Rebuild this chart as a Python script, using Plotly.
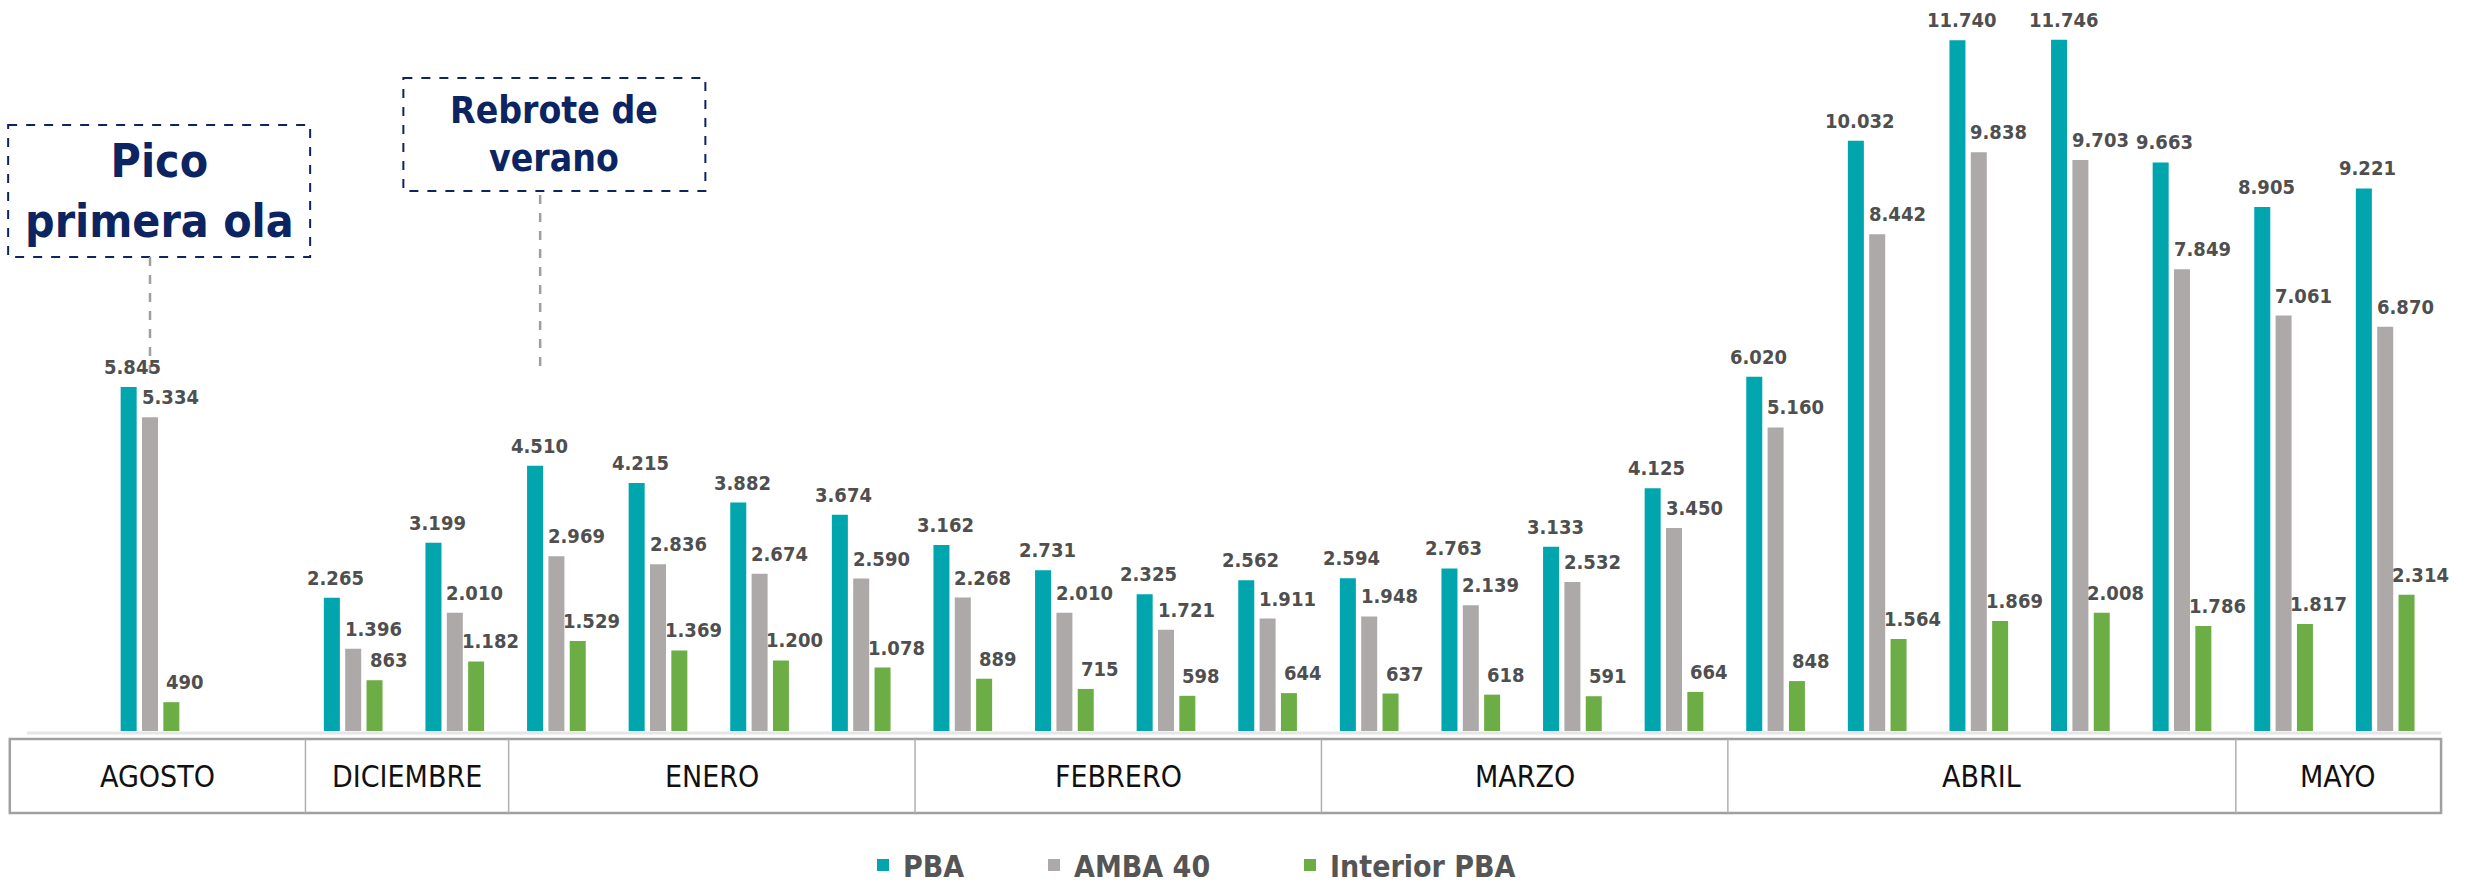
import plotly.graph_objects as go

# ---------------- data ----------------
months = ["AGOSTO", "DICIEMBRE", "ENERO", "FEBRERO", "MARZO", "ABRIL", "MAYO"]
weeks_per_month = [1, 2, 4, 4, 4, 5, 2]
empty_slots_before = [0, 1, 0, 0, 0, 0, 0]

series_names = ["PBA", "AMBA 40", "Interior PBA"]
pba = [5845, 2265, 3199, 4510, 4215, 3882, 3674, 3162, 2731, 2325, 2562,
       2594, 2763, 3133, 4125, 6020, 10032, 11740, 11746, 9663, 8905, 9221]
amba = [5334, 1396, 2010, 2969, 2836, 2674, 2590, 2268, 2010, 1721, 1911,
        1948, 2139, 2532, 3450, 5160, 8442, 9838, 9703, 7849, 7061, 6870]
interior = [490, 863, 1182, 1529, 1369, 1200, 1078, 889, 715, 598, 644,
            637, 618, 591, 664, 848, 1564, 1869, 2008, 1786, 1817, 2314]

callout_texts = ["Pico<br>primera ola", "Rebrote de<br>verano"]
callout_week = [0, 3]          # index of the week the callout points to

# ---------------- styling / geometry ----------------
W, H = 2476, 886
PLOT_H = 731                  # plot area height (px), bars baseline
SLOT_PX = 101.6
X0_PX = 150.0
PX_PER_UNIT = 0.05884
colors = ["#00A5AE", "#ADA9A8", "#6CAD45"]
bar_offsets = [-0.21, 0.0, 0.21]
label_xshift = [4, 20, 14]
legend_marker_px = [883, 1054, 1310]
FONT = "DejaVu Sans Condensed, Liberation Sans Narrow, DejaVu Sans, sans-serif"
NAVY = "#0C2461"

xmin = -X0_PX / SLOT_PX
xmax = xmin + W / SLOT_PX
ymax = PLOT_H / PX_PER_UNIT


def pxx(s):
    return (s - xmin) / (xmax - xmin)


def pyy(px):
    return (PLOT_H - px) / PLOT_H


def fmt(v):
    return f"{v:,}".replace(",", ".")


# slot positions of each week
slots, m_start, m_end = [], [], []
s = 0
for n, gap in zip(weeks_per_month, empty_slots_before):
    s += gap
    m_start.append(s)
    for _ in range(n):
        slots.append(s)
        s += 1
    m_end.append(s - 1)

fig = go.Figure()
all_series = [pba, amba, interior]
legend_ids = ["legend", "legend2", "legend3"]
for name, vals, col, lg in zip(series_names, all_series, colors, legend_ids):
    fig.add_trace(go.Bar(x=slots, y=vals, name=name, marker_color=col,
                         marker_line_width=0, legend=lg,
                         hovertemplate="%{y}<extra>" + name + "</extra>"))

annotations = []
shapes = []

# value labels
for si, vals in enumerate(all_series):
    for x, v in zip(slots, vals):
        annotations.append(dict(
            x=x + bar_offsets[si], y=v, xref="x", yref="y", text=fmt(v),
            showarrow=False, xanchor="center", yanchor="bottom",
            xshift=label_xshift[si], yshift=6,
            font=dict(family=FONT, size=20, color="#4F4F4F", weight="bold")))

# table below the bars
t_left = m_start[0] - 1.38
t_right = m_end[-1] + 0.55
t_top, t_bot = 739, 813
edges = [t_left] + [st - 0.47 for st in m_start[1:]] + [t_right]

shapes.append(dict(type="line", xref="paper", yref="paper",
                   x0=pxx(t_left + 0.17), x1=pxx(t_right), y0=pyy(733), y1=pyy(733),
                   line=dict(color="#E6E6E6", width=3)))
shapes.append(dict(type="rect", xref="paper", yref="paper",
                   x0=pxx(t_left), x1=pxx(t_right), y0=pyy(t_top), y1=pyy(t_bot),
                   line=dict(color="#A0A0A0", width=2.5), fillcolor="rgba(0,0,0,0)"))
for e in edges[1:-1]:
    shapes.append(dict(type="line", xref="paper", yref="paper",
                       x0=pxx(e), x1=pxx(e), y0=pyy(t_top), y1=pyy(t_bot),
                       line=dict(color="#B0B0B0", width=1.5)))
for i, m in enumerate(months):
    annotations.append(dict(
        x=pxx((edges[i] + edges[i + 1]) / 2), y=pyy((t_top + t_bot) / 2),
        xref="paper", yref="paper", text=m, showarrow=False,
        xanchor="center", yanchor="middle",
        font=dict(family=FONT, size=30, color="#111111")))

# callouts
box_geom = [  # (center offset in slots, half width px, top px, bottom px, font size, line x offset, line y0, line y1)
    (0.09, 151, 125, 257, 46, 0.0, 257, 373),
    (-0.02, 151, 78, 191, 37, -0.16, 195, 375),
]
for txt, wk, g in zip(callout_texts, callout_week, box_geom):
    cx_s = slots[wk] + g[0]
    half = g[1] / SLOT_PX
    shapes.append(dict(type="rect", xref="paper", yref="paper",
                       x0=pxx(cx_s - half), x1=pxx(cx_s + half),
                       y0=pyy(g[2]), y1=pyy(g[3]),
                       line=dict(color=NAVY, width=2, dash="dash"),
                       fillcolor="rgba(0,0,0,0)"))
    annotations.append(dict(
        x=pxx(cx_s), y=pyy((g[2] + g[3]) / 2), xref="paper", yref="paper",
        text=txt, showarrow=False, xanchor="center", yanchor="middle",
        font=dict(family=FONT, size=g[4], color=NAVY, weight="bold")))
    lx = slots[wk] + g[5]
    shapes.append(dict(type="line", xref="paper", yref="paper",
                       x0=pxx(lx), x1=pxx(lx), y0=pyy(g[6]), y1=pyy(g[7]),
                       line=dict(color="#9E9E9E", width=2.5, dash="dash")))

legend_font = dict(family=FONT, size=30, color="#555555", weight="bold")
legend_layouts = {}
for lg, mx in zip(legend_ids, legend_marker_px):
    legend_layouts[lg] = dict(orientation="h", x=(mx - 20) / W, xanchor="left",
                              y=pyy(865), yanchor="middle", font=legend_font,
                              bgcolor="rgba(0,0,0,0)", borderwidth=0)

fig.update_layout(
    width=W, height=H,
    margin=dict(l=0, r=0, t=0, b=H - PLOT_H, pad=0, autoexpand=False),
    paper_bgcolor="white", plot_bgcolor="white",
    barmode="group", bargap=0.37, bargroupgap=0.25,
    xaxis=dict(range=[xmin, xmax], showgrid=False, zeroline=False,
               showticklabels=False, showline=False, ticks=""),
    yaxis=dict(range=[0, ymax], showgrid=False, zeroline=False,
               showticklabels=False, showline=False, ticks=""),
    showlegend=True,
    annotations=annotations,
    shapes=shapes,
    **legend_layouts,
)

fig.write_html("out.html", config={"displayModeBar": False},
               post_script="document.body.style.margin='0';document.body.style.overflow='hidden';")
